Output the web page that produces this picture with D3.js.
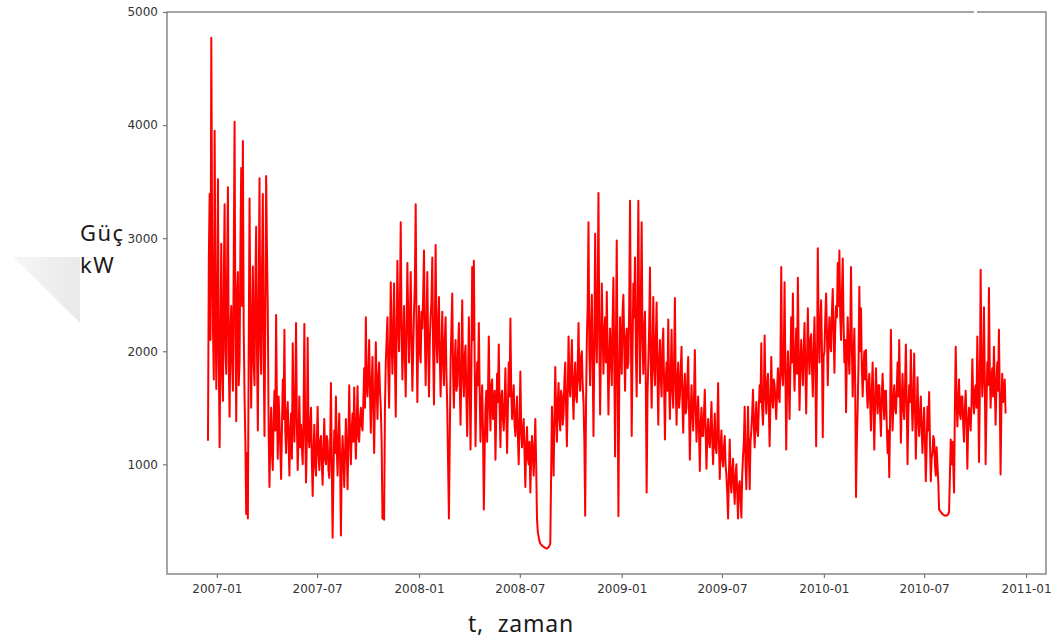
<!DOCTYPE html>
<html>
<head>
<meta charset="utf-8">
<script src="https://cdn.jsdelivr.net/npm/d3@7"></script>
<style>
  html, body { margin: 0; padding: 0; background: #fff; }
  svg { display: block; }
  .tick text { font-family: "DejaVu Sans", sans-serif; font-size: 12px; fill: #333; }
</style>
</head>
<body>
<svg id="chart" width="1054" height="641"></svg>
<script>
// ---- data (household power, one reading every 36 hours) ----
const startDate = "2006-12-16";
const stepHours = 36;
const power = [
  1209,2800,3390,2100,4773,2900,2203,1750,3950,2500,
  1666,2300,3520,1900,1150,2100,2950,1800,1560,2600,
  3300,2000,1800,2700,3450,1900,1420,2200,2400,1900,
  1650,2800,4030,2200,1380,2500,2700,1700,1900,2900,
  3620,2400,3860,2200,1600,1200,560,1100,520,2000,
  3350,2300,1500,2200,2750,1900,1700,2600,3100,2000,
  1300,2400,3530,2100,1800,2700,3390,2000,1250,2300,
  3550,2900,
  2350,1300,800,1200,1500,1100,950,1400,1650,1300,2320,1500,1050,1600,1400,1150,870,1300,1750,1400,
  2190,1300,1100,1450,1550,1200,900,1300,1450,1050,2070,1400,1200,1600,2250,1350,950,1250,1600,1150,
  1350,1150,1000,1400,2240,1300,840,1200,2120,1250,1150,1350,1500,1050,720,1100,1350,1000,900,1200,
  1510,1100,950,1200,1250,1000,820,1150,1400,1050,1000,1250,1200,950,880,1150,1720,1000,350,900,
  1300,1100,1600,1150,900,1200,1450,1050,370,1000,
  1250,1050,800,1100,1400,1150,780,1200,1700,1250,1000,1300,1450,1200,1680,1300,1050,1350,1690,1250,
  1200,1400,1500,1350,1300,1550,1850,1500,2300,1700,
  1600,1800,2100,1650,1280,1700,1950,1500,1100,1600,2080,1700,1400,1750,1900,1650,1500,1200,520,700,
  510,1500,
  1900,2100,2300,1850,1500,2000,2610,2100,1800,2200,2600,1900,1420,2150,2800,2250,2000,2400,3140,2200,
  1750,2100,2400,1950,1600,2200,2780,2300,1900,2250,2700,2100,1650,2000,2350,2600,3300,2200,
  1550,2100,2400,2000,1900,2350,2200,2500,2890,2150,1700,2200,2700,2050,1600,2100,2300,2450,2830,2000,
  1530,2200,2940,2100,1900,2250,
  2480,1950,1600,2000,2350,1900,1700,2100,2300,1800,1500,1000,520,1200,
  1900,2200,2510,1800,1500,1900,2100,1650,1700,2000,2250,1700,1350,1850,2450,1800,1600,1950,2050,1600,
  1250,1750,2300,1700,1130,1800,2745,2100,2800,1900,1160,1600,1900,1700,2250,1650,1200,1500,1700,1300,
  600,1100,
  1500,1650,1200,1600,2130,1550,1300,1700,1750,1400,1450,1650,1040,1450,1800,1550,2060,1500,1150,1600,
  1650,1400,1300,1550,1850,1450,1100,1500,1900,1600,2290,1650,1400,1550,1700,1350,1250,1450,
  1600,1250,1000,1350,1820,1300,1150,1300,1400,1100,800,1150,1330,1050,1000,1200,750,1050,1250,1100,
  900,1150,1400,1000,520,400,360,320,300,290,280,275,270,265,260,258,255,260,270,280,
  300,900,
  1510,1200,900,1400,1860,1450,1200,1550,1720,1400,1300,1650,1600,1350,1450,1750,1900,1500,1160,1600,
  2130,1700,1600,1850,2100,1650,1400,1750,1900,1600,1550,1850,2250,1750,1650,1950,2000,1700,1550,1200,
  545,1500,2100,2400,3140,2000,1700,2200,2500,1900,1250,2000,3040,2200,1900,2500,3400,2100,1440,2050,
  2600,2200,1800,2150,2300,1900,2525,2000,
  1440,1900,2200,1950,1700,2250,2650,1900,1070,2100,2980,1800,540,1700,2300,2000,1800,2350,2500,2050,
  1650,2100,2200,1850,1900,2400,3330,2200,1250,2000,2600,2300,2830,2000,1600,2400,3330,2300,1720,2450,
  3140,2100,1800,2200,2350,1700,750,1600,1900,2200,2740,1900,1500,2000,2480,1850,1700,2100,2430,1800,
  1350,1900,2100,1750,1600,2050,2200,1700,1220,1750,
  1900,1650,2280,1700,1400,1800,2190,1650,1500,1900,2470,1700,1350,1750,1900,1500,1600,1850,2040,1550,
  1280,1650,1800,1450,1500,1750,1950,1500,1040,1450,
  1700,1450,1300,1600,2010,1500,1200,1450,1600,1300,940,1350,1500,1250,1250,1450,1660,1300,960,1250,
  1400,1200,1150,1350,1550,1200,1000,1250,1450,1150,1100,1300,1720,1200,870,1150,1300,1050,980,1150,
  1250,1000,
  900,750,520,900,1220,850,750,950,1050,800,650,900,1000,750,520,800,850,700,530,900,
  1070,1200,1510,1000,780,1150,1510,1100,
  780,1200,1300,1450,1660,1350,1150,1400,1550,1300,1250,1500,1700,1550,2070,1500,1350,1600,2140,1650,
  1450,1700,1800,1500,1160,1550,1950,1600,1500,1750,1700,1550,1400,1650,1850,1600,1550,1900,2745,1800,
  1700,1900,2610,1800,1130,1700,2000,1750,1400,1850,2300,1900,2510,1950,1650,1950,2200,1800,2650,2000,
  1480,1850,2100,1900,1700,2000,2250,1850,1450,1900,2380,2000,1800,2100,2150,1850,1600,2000,2300,1900,
  1160,1800,2910,2200,1900,2250,2450,2000,1240,1950,
  2000,2300,2510,2150,1700,2100,2300,2050,2000,2350,2550,2200,1810,2200,2400,2300,2780,2400,2890,2300,
  2100,2500,2820,2250,1900,2100,1460,1950,2300,2000,1800,2150,2745,2050,1600,1950,2200,1700,710,1200,
  1500,1900,2570,2000,2380,1850,1600,1850,2000,1750,
  2010,1650,1500,1700,1800,1550,1300,1650,1900,1500,1130,1550,1850,1600,1450,1700,1700,1450,1250,1600,
  1800,1550,1400,1650,1650,1350,1100,1300,885,1400,2190,1600,1300,1550,1700,1500,1450,1650,1900,1600,
  2100,1650,1190,1550,1800,1500,1400,1700,2060,1550,1000,1450,1700,1550,2010,1600,1300,1550,1980,1500,
  1050,1400,1770,1400,1250,1450,1600,1300,1100,1350,1500,1200,850,1150,1510,1300,1640,1200,850,1050,
  1100,1250,1220,1000,900,1150,1000,850,600,590,580,570,560,555,550,548,545,548,550,560,
  580,900,1220,1000,1200,1000,750,1500,
  2040,1600,1335,1550,1750,1450,1400,1600,1600,1350,1200,1500,1650,1400,960,1350,1500,1400,1300,1550,
  1930,1600,1450,1650,1700,1500,2130,1700,1020,1600,2720,1900,1600,1800,2390,1750,1000,1500,1900,1700,
  2560,1850,1500,1750,1850,1600,2040,1700,1350,1700,1900,1650,2190,1600,910,1500,1800,1550,1600,1750,
  1450
];
const xDomain = ["2006-10-03", "2011-02-06"];
const yDomain = [30, 5000];
const yTicks = [1000, 2000, 3000, 4000, 5000];
const yLabel = ["Güç", "kW"];
const xLabel = "t,  zaman";

// ---- layout ----
const svg = d3.select("#chart");
const pLeft = 167, pRight = 1046, pTop = 12, pBottom = 574;
const parse = d3.utcParse("%Y-%m-%d");
const start = parse(startDate);
const series = power.map((v, i) => ({ date: d3.utcHour.offset(start, i * stepHours), value: v }));

const x = d3.scaleUtc().domain(xDomain.map(parse)).range([pLeft, pRight]);
const y = d3.scaleLinear().domain(yDomain).range([pBottom, pTop]);

// faint grey triangle artifact at left
const grad = svg.append("defs").append("linearGradient").attr("id", "tri")
  .attr("x1", "0").attr("x2", "1").attr("y1", "0").attr("y2", "0");
grad.append("stop").attr("offset", "0").attr("stop-color", "#f6f6f6");
grad.append("stop").attr("offset", "1").attr("stop-color", "#e9e9e9");
svg.append("polygon").attr("points", "13,257 80,257 80,323").attr("fill", "url(#tri)");

// line
const line = d3.line().x(d => x(d.date)).y(d => y(d.value));
svg.append("path").datum(series)
  .attr("d", line)
  .attr("fill", "none")
  .attr("stroke", "#ff0000")
  .attr("stroke-width", 2)
  .attr("stroke-linejoin", "round");

// frame
svg.append("rect").attr("x", pLeft).attr("y", pTop)
  .attr("width", pRight - pLeft).attr("height", pBottom - pTop)
  .attr("fill", "none").attr("stroke", "#8f8f8f").attr("stroke-width", 1.6);

// axes
const xAxis = d3.axisBottom(x).ticks(d3.utcMonth.every(6)).tickFormat(d3.utcFormat("%Y-%m"))
  .tickSize(4).tickPadding(6);
const gx = svg.append("g").attr("transform", `translate(0,${pBottom})`).call(xAxis);
const yAxis = d3.axisLeft(y).tickValues(yTicks).tickFormat(d3.format("d")).tickSize(4).tickPadding(5);
const gy = svg.append("g").attr("transform", `translate(${pLeft},0)`).call(yAxis);
[gx, gy].forEach(g => {
  g.select(".domain").remove();
  g.selectAll(".tick line").attr("stroke", "#777").attr("stroke-width", 1.2);
});

// small gap in top frame (artifact)
svg.append("rect").attr("x", 974).attr("y", pTop - 2).attr("width", 3).attr("height", 4).attr("fill", "#fff");

// axis titles
const titleFont = "'Noto Sans', 'Open Sans', sans-serif";
svg.append("text").attr("x", 80).attr("y", 241).text(yLabel[0])
  .attr("font-family", titleFont).attr("font-size", 22).attr("letter-spacing", 1.5).attr("fill", "#1a1a1a");
svg.append("text").attr("x", 80).attr("y", 273).text(yLabel[1])
  .attr("font-family", titleFont).attr("font-size", 22).attr("letter-spacing", 1.5).attr("fill", "#1a1a1a");
svg.append("text").attr("x", 468).attr("y", 632).text(xLabel)
  .style("white-space", "pre")
  .attr("font-family", titleFont).attr("font-size", 23).attr("letter-spacing", 0.8).attr("fill", "#1a1a1a");
</script>
</body>
</html>
